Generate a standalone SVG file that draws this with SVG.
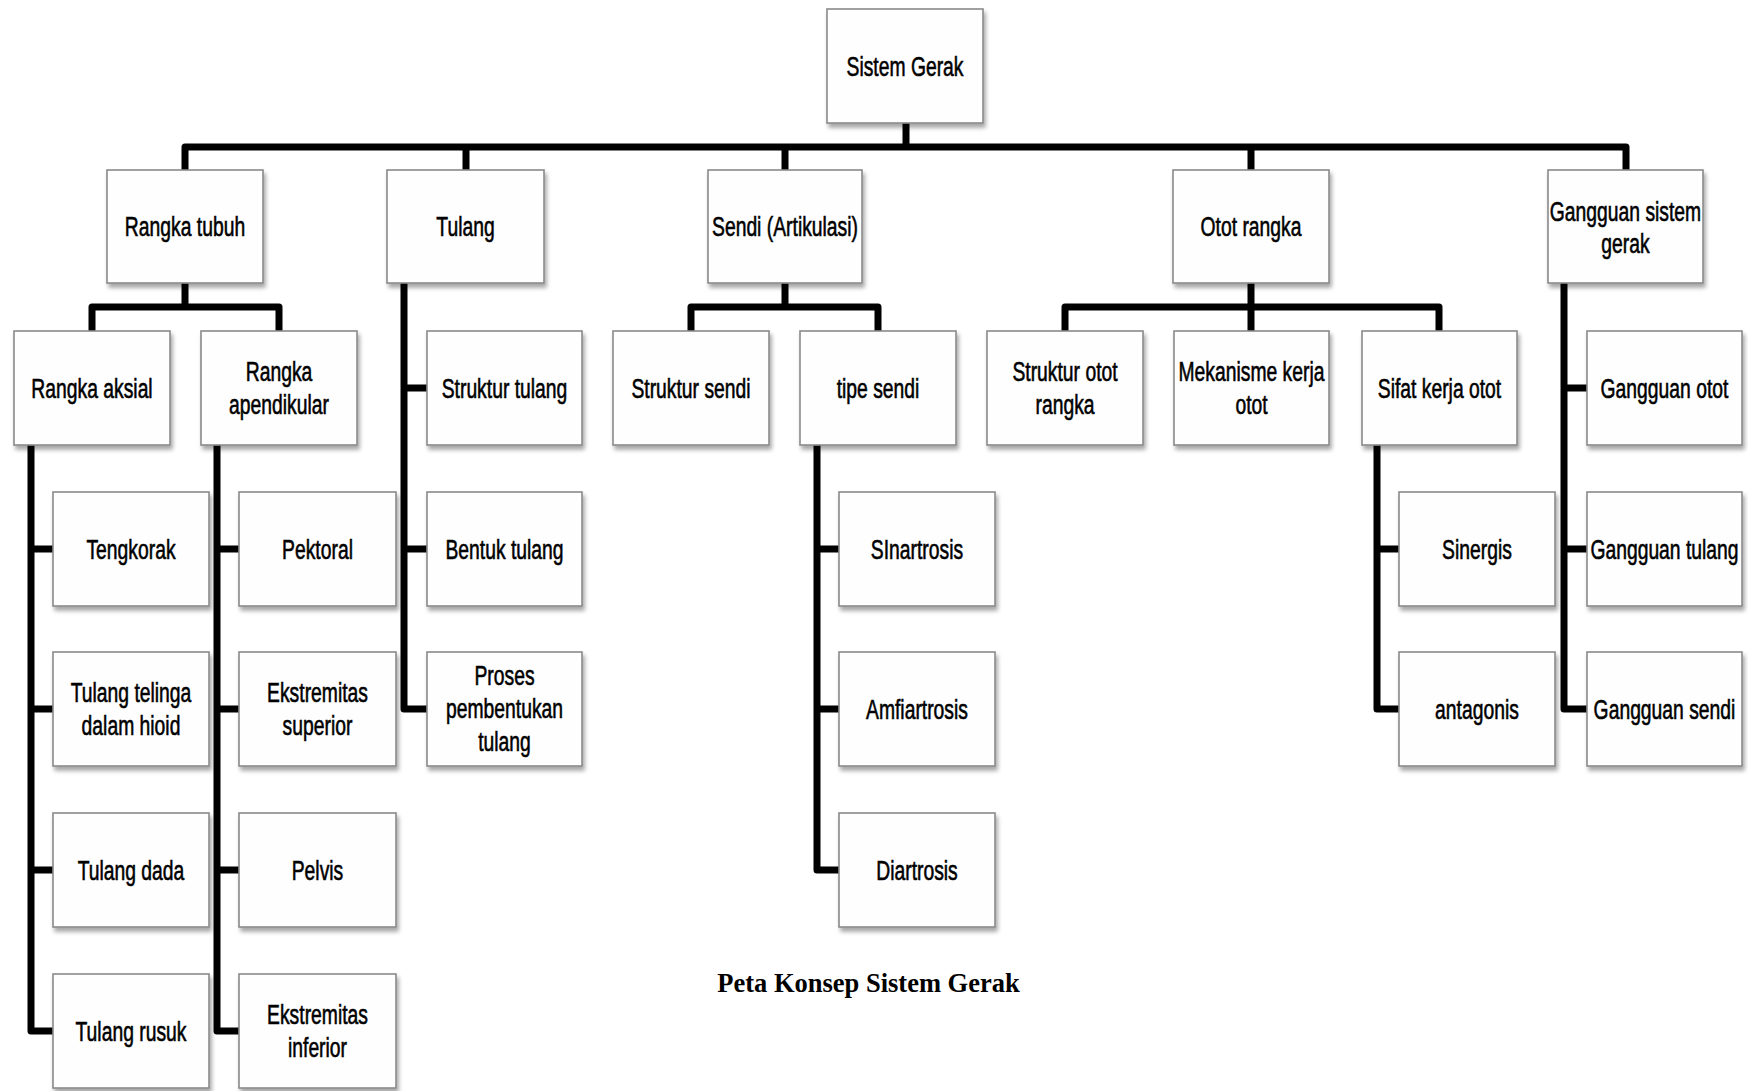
<svg xmlns="http://www.w3.org/2000/svg" width="1748" height="1091" viewBox="0 0 1748 1091">
<defs>
<filter id="sh" x="-10%" y="-10%" width="125%" height="130%">
<feDropShadow dx="2" dy="4" stdDeviation="2" flood-color="#000" flood-opacity="0.35"/>
</filter>
<style>
.box rect{fill:#fefefe;stroke:#8a8a8a;stroke-width:1.6;filter:url(#sh)}
.box text{font-family:"Liberation Sans",Arial,sans-serif;font-size:28px;fill:#000;stroke:#000;stroke-width:0.6;text-anchor:middle}
.con path{fill:none;stroke:#000;stroke-width:7;stroke-linejoin:round}
.title{font-family:"Liberation Serif","Times New Roman",serif;font-size:26.5px;font-weight:bold;fill:#000;text-anchor:middle}
</style>
</defs>
<rect width="1748" height="1091" fill="#fff"/>
<g id="connectors" class="con">
<path d="M906,123 V147"/>
<path d="M185,170 V147 H1626 V170"/>
<path d="M466,147 V170"/>
<path d="M785,147 V170"/>
<path d="M1251,147 V170"/>
<path d="M185,283 V307"/>
<path d="M92,331 V307 H279 V331"/>
<path d="M785,283 V307"/>
<path d="M691,331 V307 H878 V331"/>
<path d="M1251,283 V331"/>
<path d="M1065,331 V307 H1439 V331"/>
<path d="M31,445 V1031 H53"/>
<path d="M31,549 H53 M31,709 H53 M31,870 H53"/>
<path d="M217,445 V1031 H239"/>
<path d="M217,549 H239 M217,709 H239 M217,870 H239"/>
<path d="M404,283 V709 H427"/>
<path d="M404,388 H427 M404,549 H427"/>
<path d="M817,445 V870 H839"/>
<path d="M817,549 H839 M817,709 H839"/>
<path d="M1377,445 V709 H1399"/>
<path d="M1377,549 H1399"/>
<path d="M1564,283 V709 H1587"/>
<path d="M1564,388 H1587 M1564,549 H1587"/>
</g>
<g id="n-sistem-gerak" class="box"><rect x="827" y="9" width="156" height="114"/><text transform="translate(905 76) scale(0.69 1)">Sistem Gerak</text></g>
<g id="n-rangka-tubuh" class="box"><rect x="107" y="170" width="156" height="113"/><text transform="translate(185 236) scale(0.69 1)">Rangka tubuh</text></g>
<g id="n-tulang" class="box"><rect x="387" y="170" width="157" height="113"/><text transform="translate(465.5 236) scale(0.69 1)">Tulang</text></g>
<g id="n-sendi" class="box"><rect x="708" y="170" width="154" height="113"/><text transform="translate(785 236) scale(0.69 1)">Sendi (Artikulasi)</text></g>
<g id="n-otot-rangka" class="box"><rect x="1173" y="170" width="156" height="113"/><text transform="translate(1251 236) scale(0.69 1)">Otot rangka</text></g>
<g id="n-gangguan-sistem" class="box"><rect x="1548" y="170" width="155" height="113"/><text transform="translate(1625.5 221) scale(0.69 1)"><tspan x="0" y="0">Gangguan sistem</tspan><tspan x="0" y="32">gerak</tspan></text></g>
<g id="n-rangka-aksial" class="box"><rect x="14" y="331" width="156" height="114"/><text transform="translate(92 398) scale(0.69 1)">Rangka aksial</text></g>
<g id="n-rangka-apendikular" class="box"><rect x="201" y="331" width="156" height="114"/><text transform="translate(279 381) scale(0.69 1)"><tspan x="0" y="0">Rangka</tspan><tspan x="0" y="33">apendikular</tspan></text></g>
<g id="n-struktur-tulang" class="box"><rect x="427" y="331" width="155" height="114"/><text transform="translate(504.5 398) scale(0.69 1)">Struktur tulang</text></g>
<g id="n-struktur-sendi" class="box"><rect x="613" y="331" width="156" height="114"/><text transform="translate(691 398) scale(0.69 1)">Struktur sendi</text></g>
<g id="n-tipe-sendi" class="box"><rect x="800" y="331" width="156" height="114"/><text transform="translate(878 398) scale(0.69 1)">tipe sendi</text></g>
<g id="n-struktur-otot" class="box"><rect x="987" y="331" width="156" height="114"/><text transform="translate(1065 381) scale(0.69 1)"><tspan x="0" y="0">Struktur otot</tspan><tspan x="0" y="33">rangka</tspan></text></g>
<g id="n-mekanisme" class="box"><rect x="1174" y="331" width="155" height="114"/><text transform="translate(1251.5 381) scale(0.69 1)"><tspan x="0" y="0">Mekanisme kerja</tspan><tspan x="0" y="33">otot</tspan></text></g>
<g id="n-sifat" class="box"><rect x="1362" y="331" width="155" height="114"/><text transform="translate(1439.5 398) scale(0.69 1)">Sifat kerja otot</text></g>
<g id="n-gangguan-otot" class="box"><rect x="1587" y="331" width="155" height="114"/><text transform="translate(1664.5 398) scale(0.69 1)">Gangguan otot</text></g>
<g id="n-tengkorak" class="box"><rect x="53" y="492" width="156" height="114"/><text transform="translate(131 559) scale(0.69 1)">Tengkorak</text></g>
<g id="n-tulang-telinga" class="box"><rect x="53" y="652" width="156" height="114"/><text transform="translate(131 702) scale(0.69 1)"><tspan x="0" y="0">Tulang telinga</tspan><tspan x="0" y="33">dalam hioid</tspan></text></g>
<g id="n-tulang-dada" class="box"><rect x="53" y="813" width="156" height="114"/><text transform="translate(131 880) scale(0.69 1)">Tulang dada</text></g>
<g id="n-tulang-rusuk" class="box"><rect x="53" y="974" width="156" height="114"/><text transform="translate(131 1041) scale(0.69 1)">Tulang rusuk</text></g>
<g id="n-pektoral" class="box"><rect x="239" y="492" width="157" height="114"/><text transform="translate(317.5 559) scale(0.69 1)">Pektoral</text></g>
<g id="n-ekstremitas-superior" class="box"><rect x="239" y="652" width="157" height="114"/><text transform="translate(317.5 702) scale(0.69 1)"><tspan x="0" y="0">Ekstremitas</tspan><tspan x="0" y="33">superior</tspan></text></g>
<g id="n-pelvis" class="box"><rect x="239" y="813" width="157" height="114"/><text transform="translate(317.5 880) scale(0.69 1)">Pelvis</text></g>
<g id="n-ekstremitas-inferior" class="box"><rect x="239" y="974" width="157" height="114"/><text transform="translate(317.5 1024) scale(0.69 1)"><tspan x="0" y="0">Ekstremitas</tspan><tspan x="0" y="33">inferior</tspan></text></g>
<g id="n-bentuk-tulang" class="box"><rect x="427" y="492" width="155" height="114"/><text transform="translate(504.5 559) scale(0.69 1)">Bentuk tulang</text></g>
<g id="n-proses" class="box"><rect x="427" y="652" width="155" height="114"/><text transform="translate(504.5 685) scale(0.69 1)"><tspan x="0" y="0">Proses</tspan><tspan x="0" y="33">pembentukan</tspan><tspan x="0" y="66">tulang</tspan></text></g>
<g id="n-sinartrosis" class="box"><rect x="839" y="492" width="156" height="114"/><text transform="translate(917 559) scale(0.69 1)">SInartrosis</text></g>
<g id="n-amfiartrosis" class="box"><rect x="839" y="652" width="156" height="114"/><text transform="translate(917 719) scale(0.69 1)">Amfiartrosis</text></g>
<g id="n-diartrosis" class="box"><rect x="839" y="813" width="156" height="114"/><text transform="translate(917 880) scale(0.69 1)">Diartrosis</text></g>
<g id="n-sinergis" class="box"><rect x="1399" y="492" width="156" height="114"/><text transform="translate(1477 559) scale(0.69 1)">Sinergis</text></g>
<g id="n-antagonis" class="box"><rect x="1399" y="652" width="156" height="114"/><text transform="translate(1477 719) scale(0.69 1)">antagonis</text></g>
<g id="n-gangguan-tulang" class="box"><rect x="1587" y="492" width="155" height="114"/><text transform="translate(1664.5 559) scale(0.69 1)">Gangguan tulang</text></g>
<g id="n-gangguan-sendi" class="box"><rect x="1587" y="652" width="155" height="114"/><text transform="translate(1664.5 719) scale(0.69 1)">Gangguan sendi</text></g>
<text class="title" x="868.5" y="992">Peta Konsep Sistem Gerak</text>
</svg>
